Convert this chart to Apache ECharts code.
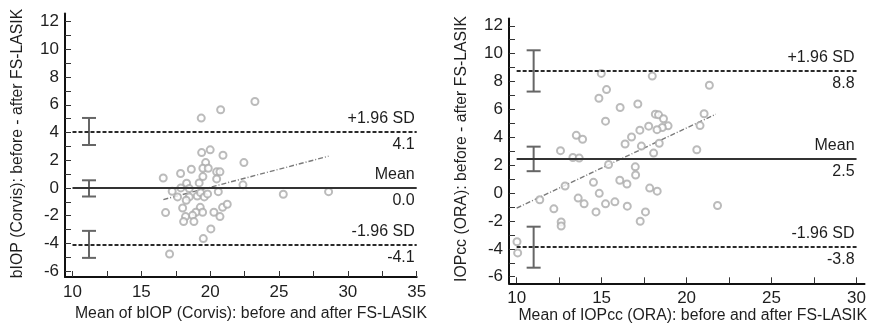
<!DOCTYPE html>
<html>
<head>
<meta charset="utf-8">
<script src="https://cdn.jsdelivr.net/npm/echarts@6/dist/echarts.min.js"></script>
<style>
html,body{margin:0;padding:0;background:#fff;}
#c{width:869px;height:329px;}
</style>
</head>
<body>
<div id="c"></div>
<script>
// ---------- Left panel: bIOP (Corvis) ----------
const leftMeanVals = [23.25,20.76,19.35,19.38,20.0,20.93,22.45,19.67,18.63,19.47,19.86,20.47,20.71,17.85,16.59,19.47,20.47,22.38,18.29,19.20,17.87,18.48,17.24,17.63,18.48,19.06,19.30,19.57,19.81,20.59,25.31,28.6,18.26,18.0,16.76,19.28,19.45,18.96,18.72,18.21,18.07,18.82,20.27,20.71,20.90,21.24,20.05,19.50,17.05];
const leftDiffVals = [6.24,5.64,5.04,2.55,2.75,2.36,1.83,1.83,1.35,1.42,1.42,1.16,1.16,1.04,0.72,0.82,0.65,0.22,0.34,0.36,0.0,-0.05,-0.24,-0.65,-0.65,-0.58,-0.34,-0.65,-0.43,-0.27,-0.46,-0.27,-0.89,-1.45,-1.78,-1.40,-1.76,-1.76,-1.98,-2.07,-2.43,-2.43,-1.76,-2.07,-1.40,-1.18,-2.96,-3.66,-4.77];
const leftLimits = [4.08, 0.0, -4.08];          // +1.96 SD, Mean, -1.96 SD
const leftCI = [[5.05, 3.1], [0.55, -0.62], [-3.1, -5.05]];
const leftCIx = 11.2;
const leftRegX = [16.6, 28.6];
const leftRegY = [-0.84, 2.29];
const leftXLabels = [10, 15, 20, 25, 30, 35];
const leftXTicks = [10, 12.5, 15, 17.5, 20, 22.5, 25, 27.5, 30, 32.5, 35];
const leftYLabels = [-6, -4, -2, 0, 2, 4, 6, 8, 10, 12];
const leftYTicks = [-6,-5,-4,-3,-2,-1,0,1,2,3,4,5,6,7,8,9,10,11,12];
const leftXTitle = 'Mean of bIOP (Corvis): before and after FS-LASIK';
const leftYTitle = 'bIOP (Corvis): before - after FS-LASIK';

// ---------- Right panel: IOPcc (ORA) ----------
const rightMeanVals = [14.98,17.98,15.29,21.34,14.84,16.09,17.13,18.16,18.35,18.64,21.03,15.23,17.77,18.91,18.57,18.26,17.25,20.79,13.51,13.88,16.76,16.38,18.39,17.34,12.58,18.06,20.60,13.31,13.68,15.41,16.98,17.0,12.85,14.52,16.07,16.49,17.83,18.27,14.86,11.36,13.62,13.97,15.23,15.78,16.51,14.67,17.58,12.19,12.62,12.62,17.27,21.82,10.02,10.06];
const rightDiffVals = [8.58,8.39,7.42,7.73,6.80,6.14,6.39,5.66,5.61,5.33,5.69,5.16,4.80,4.82,4.70,4.55,4.51,4.84,4.14,3.86,4.02,3.52,3.57,3.37,3.04,2.87,3.11,2.55,2.51,2.05,1.88,1.30,0.51,0.77,0.92,0.65,0.36,0.14,-0.02,-0.48,-0.36,-0.77,-0.77,-0.63,-0.94,-1.35,-1.35,-1.13,-2.07,-2.36,-2.02,-0.89,-3.49,-4.29];
const rightLimits = [8.79, 2.48, -3.83];
const rightCI = [[10.24, 7.28], [3.33, 1.57], [-2.41, -5.35]];
const rightCIx = 11.0;
const rightRegX = [10.0, 21.72];
const rightRegY = [-1.08, 5.66];
const rightXLabels = [10, 15, 20, 25, 30];
const rightXTicks = [10, 12.5, 15, 17.5, 20, 22.5, 25, 27.5, 30];
const rightYLabels = [-6, -4, -2, 0, 2, 4, 6, 8, 10, 12];
const rightYTicks = [-6,-5,-4,-3,-2,-1,0,1,2,3,4,5,6,7,8,9,10,11,12];
const rightXTitle = 'Mean of IOPcc (ORA): before and after FS-LASIK';
const rightYTitle = 'IOPcc (ORA): before - after FS-LASIK';

const limitNames = ['+1.96 SD', 'Mean', '-1.96 SD'];

const FONT = '"Liberation Sans", Arial, sans-serif';
const TXT = '#1e1e1e';

function xAxisCfg(grid, min, max, labels, ticks) {
  return {
    type: 'value', gridIndex: grid, min: min, max: max,
    splitLine: {show: false},
    axisLine: {show: true, onZero: false, lineStyle: {color: '#111', width: 2}},
    axisTick: {show: true, inside: true, length: 6, customValues: ticks, lineStyle: {color: '#333', width: 1}},
    axisLabel: {customValues: labels, color: TXT, fontSize: 17, fontFamily: FONT, margin: 7}
  };
}
function yAxisCfg(grid, min, max, labels, ticks) {
  return {
    type: 'value', gridIndex: grid, min: min, max: max,
    splitLine: {show: false},
    axisLine: {show: true, onZero: false, lineStyle: {color: '#111', width: 2}},
    axisTick: {show: true, inside: true, length: 6, customValues: ticks, lineStyle: {color: '#333', width: 1}},
    axisLabel: {customValues: labels, color: TXT, fontSize: 17, fontFamily: FONT, margin: 6}
  };
}

function limitMarkLine(limits, x0, x1) {
  const data = [];
  limits.forEach((v, i) => {
    const isMean = i === 1;
    const ls = isMean ? {color: '#333', width: 2, type: 'solid'} : {color: '#2a2a2a', width: 2, type: [4, 2]};
    data.push([
      {coord: [x0, v], lineStyle: ls,
       label: {show: true, position: 'insideEndTop', formatter: limitNames[i], color: TXT, fontSize: 16, fontFamily: FONT, distance: [2, 5]}},
      {coord: [x1, v]}
    ]);
    data.push([
      {coord: [x0, v], lineStyle: {color: 'rgba(0,0,0,0)', width: 0},
       label: {show: true, position: 'insideEndBottom', formatter: v.toFixed(1), color: TXT, fontSize: 16, fontFamily: FONT, distance: [2, 5]}},
      {coord: [x1, v]}
    ]);
  });
  return {silent: true, symbol: 'none', animation: false, data: data};
}

function ciSeries(xi, yi, cx, ci) {
  return {
    type: 'custom', xAxisIndex: xi, yAxisIndex: yi, silent: true, animation: false, z: 3,
    data: ci.map(c => [cx, c[0], c[1]]),
    renderItem: function (params, api) {
      const top = api.coord([api.value(0), api.value(1)]);
      const bot = api.coord([api.value(0), api.value(2)]);
      const hw = 7;
      const st = {stroke: '#666', lineWidth: 2};
      return {type: 'group', children: [
        {type: 'line', shape: {x1: top[0], y1: top[1], x2: bot[0], y2: bot[1]}, style: st},
        {type: 'line', shape: {x1: top[0]-hw, y1: top[1], x2: top[0]+hw, y2: top[1]}, style: st},
        {type: 'line', shape: {x1: bot[0]-hw, y1: bot[1], x2: bot[0]+hw, y2: bot[1]}, style: st}
      ]};
    }
  };
}

function scatterSeries(xi, yi, xs, ys, limits, x0, x1) {
  return {
    type: 'scatter', xAxisIndex: xi, yAxisIndex: yi, animation: false, z: 4,
    symbol: 'emptyCircle', symbolSize: 7,
    itemStyle: {color: '#aaaaaa', borderColor: '#aaaaaa', borderWidth: 0.9},
    data: xs.map((x, i) => [x, ys[i]]),
    markLine: limitMarkLine(limits, x0, x1)
  };
}
function regSeries(xi, yi, rx, ry) {
  return {
    type: 'line', xAxisIndex: xi, yAxisIndex: yi, animation: false, symbol: 'none', z: 3,
    lineStyle: {color: '#7a7a7a', width: 1.4, type: [5, 2, 1, 2]},
    data: rx.map((x, i) => [x, ry[i]])
  };
}

const chart = echarts.init(document.getElementById('c'), null, {renderer: 'canvas'});
chart.setOption({
  backgroundColor: '#fff',
  animation: false,
  grid: [
    {left: 65, top: 13.5, width: 351.7, height: 263.5},
    {left: 509, top: 18.5, width: 360, height: 264.8}
  ],
  xAxis: [
    xAxisCfg(0, 9.455, 35, leftXLabels, leftXTicks),
    xAxisCfg(1, 9.55, 30.47, rightXLabels, rightXTicks)
  ],
  yAxis: [
    yAxisCfg(0, -6.43, 12.59, leftYLabels, leftYTicks),
    yAxisCfg(1, -6.47, 12.52, rightYLabels, rightYTicks)
  ],
  series: [
    scatterSeries(0, 0, leftMeanVals, leftDiffVals, leftLimits, 10, 35),
    regSeries(0, 0, leftRegX, leftRegY),
    ciSeries(0, 0, leftCIx, leftCI),
    scatterSeries(1, 1, rightMeanVals, rightDiffVals, rightLimits, 10, 30),
    regSeries(1, 1, rightRegX, rightRegY),
    ciSeries(1, 1, rightCIx, rightCI)
  ],
  graphic: [
    {type: 'text', x: 427, y: 314, style: {text: leftXTitle, fill: TXT, font: '15.8px ' + FONT, textAlign: 'right', textVerticalAlign: 'middle'}},
    {type: 'text', x: 867, y: 316, style: {text: rightXTitle, fill: TXT, font: '15.8px ' + FONT, textAlign: 'right', textVerticalAlign: 'middle'}},
    {type: 'text', x: 18, y: 143.5, rotation: Math.PI / 2, style: {text: leftYTitle, fill: TXT, font: '15.8px ' + FONT, textAlign: 'center', textVerticalAlign: 'middle'}},
    {type: 'text', x: 461.7, y: 149, rotation: Math.PI / 2, style: {text: rightYTitle, fill: TXT, font: '15.8px ' + FONT, textAlign: 'center', textVerticalAlign: 'middle'}}
  ]
});
</script>
</body>
</html>
